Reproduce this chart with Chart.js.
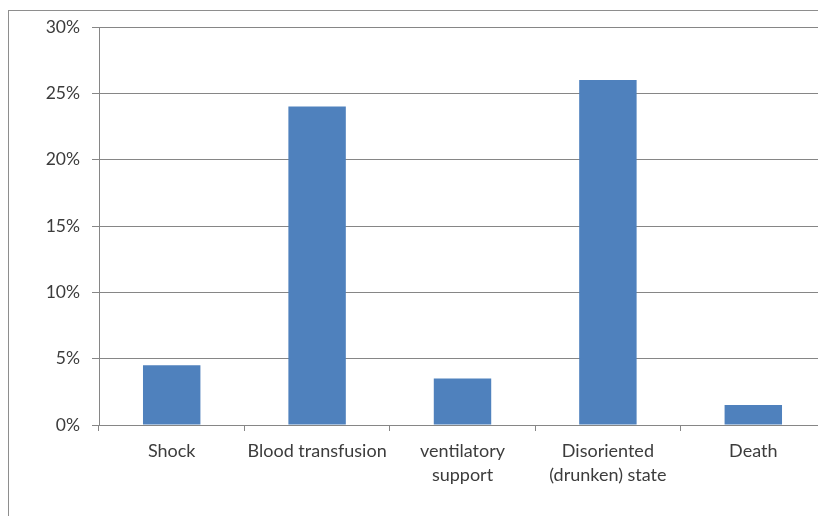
<!DOCTYPE html>
<html>
<head>
<meta charset="utf-8">
<script src="https://cdn.jsdelivr.net/npm/chart.js@4"></script>
<style>
  html, body { margin: 0; padding: 0; background: #fff; overflow: hidden; }
  #frame {
    position: absolute; left: 8px; top: 10px;
    width: 900px; height: 600px;
    border: 1px solid #8e8e8e;
  }
  #wrap { position: absolute; left: 0; top: 0; width: 826px; height: 516px; }
</style>
</head>
<body>
<div id="frame"></div>
<div id="wrap"><canvas id="chart"></canvas></div>
<script>
const categories = [
  'Shock',
  'Blood transfusion',
  ['ventilatory', 'support'],
  ['Disoriented', '(drunken) state'],
  'Death'
];
const percentValues = [4.5, 24, 3.5, 26, 1.5];
const yTicks = [0, 5, 10, 15, 20, 25, 30];

const axisGray = '#868686';
const textGray = '#3c3c3c';

new Chart(document.getElementById('chart'), {
  type: 'bar',
  data: {
    labels: categories,
    datasets: [{
      data: percentValues,
      backgroundColor: '#4f81bd',
      borderWidth: 0,
      categoryPercentage: 1,
      barPercentage: 0.395
    }]
  },
  options: {
    responsive: true,
    maintainAspectRatio: false,
    animation: false,
    layout: { padding: { top: 27, right: 0, bottom: 0, left: 0 } },
    plugins: {
      legend: { display: false },
      tooltip: { enabled: false }
    },
    scales: {
      x: {
        grid: {
          drawOnChartArea: false,
          drawTicks: true,
          tickLength: 6,
          color: axisGray,
          offset: true
        },
        border: { color: axisGray },
        ticks: {
          color: textGray,
          font: { family: 'Lato', size: 18, lineHeight: 1.333 },
          padding: 8,
          maxRotation: 0,
          autoSkip: false
        },
        afterFit: scale => { scale.height = 91; }
      },
      y: {
        min: 0,
        max: 30,
        afterBuildTicks: scale => {
          scale.ticks = yTicks.map(v => ({ value: v }));
        },
        grid: {
          color: axisGray,
          tickLength: 7
        },
        border: { color: axisGray },
        ticks: {
          color: textGray,
          font: { family: 'Lato', size: 17.5 },
          padding: 12,
          callback: v => v + '%'
        },
        afterFit: scale => { scale.width = 99; }
      }
    }
  }
});
</script>
</body>
</html>
